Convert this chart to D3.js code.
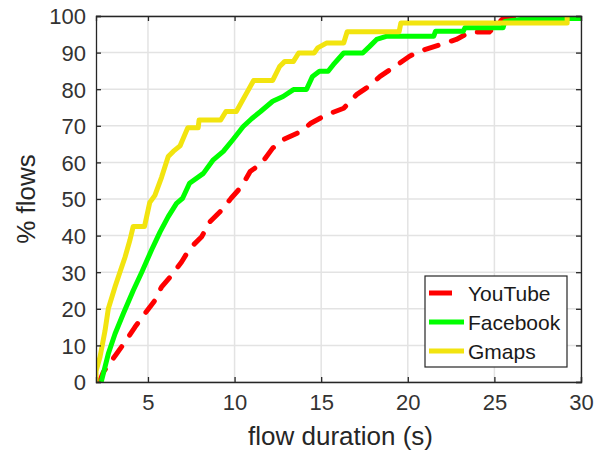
<!DOCTYPE html>
<html>
<head>
<meta charset="utf-8">
<script src="https://cdn.jsdelivr.net/npm/d3@7"></script>
<style>
  body { margin: 0; background: #fff; }
  text { font-family: "Liberation Sans", Arial, sans-serif; }
</style>
</head>
<body>
<div id="chart"></div>
<script>
// x: flow duration (s), y: % flows
var seriesNames = ['YouTube', 'Facebook', 'Gmaps'];
var seriesColors = ['#ff0000', '#00ff00', '#f2e40f'];

var youtubeX = [2.2, 2.42, 3.19, 3.67, 4.25, 4.83, 5.4, 5.79, 6.37, 6.94, 7.42, 8.1, 8.58, 9.16, 9.8,
  10.4, 10.9, 11.56, 12.2, 12.8, 13.8, 14.4, 15.3, 16.3, 17.04, 17.6, 18.4, 19.25, 20.1, 20.7,
  21.9, 22.8, 23.6, 24.7, 25.5, 26.8, 27, 30];
var youtubeY = [0, 2.7, 7.7, 10.9, 15, 18.7, 22.3, 26, 29.2, 32.8, 36.5, 39.7, 43.8, 46.5, 50.2,
  53.4, 57.5, 59.8, 63.9, 66.2, 68.4, 70.7, 73, 74.8, 78.5, 80.3, 83.5, 86.2, 89, 90.4,
  92.2, 93.6, 95.6, 95.6, 99.3, 99.3, 100, 100];

var facebookX = [2.3, 2.71, 3.1, 3.58, 4.15, 4.64, 5.2, 5.7, 6.17, 6.65, 7.0, 7.4, 8.2, 8.77, 9.35,
  9.9, 10.5, 11.0, 11.5, 12.2, 12.8, 13.4, 14.15, 14.5, 14.9, 15.4, 15.7, 16.3, 17.4, 17.8,
  18.2, 18.8, 21.5, 21.6, 23.2, 23.3, 25.5, 25.6, 27, 30];
var facebookY = [0, 7.7, 13.2, 18.7, 25, 30, 36, 41, 45.2, 48.8, 50.2, 54.3, 57, 60.7, 63,
  66.2, 69.8, 72, 73.9, 76.7, 78, 79.9, 79.9, 83.5, 84.9, 84.9, 86.7, 89.9, 89.9, 91.7,
  93.6, 94.5, 94.5, 95.8, 95.8, 96.8, 96.8, 98.5, 99.3, 99.3];

var gmapsX = [2.0, 2.0, 2.23, 2.52, 2.71, 3.1, 3.38, 3.67, 3.96, 4.15, 4.8, 5.1, 5.4, 5.79, 6.17,
  6.46, 6.85, 7.3, 7.9, 7.95, 9.2, 9.5, 10.1, 10.7, 11.1, 12.2, 12.6, 12.9, 13.4, 13.7,
  14.6, 14.8, 15.3, 16.3, 16.5, 19.5, 19.6, 29.2, 29.2];
var gmapsY = [0, 3, 6.8, 14, 20, 26, 30, 34, 38.8, 42.5, 42.5, 49, 51, 56, 61.6,
  63, 64.5, 69.5, 69.5, 71.6, 71.6, 73.9, 73.9, 79, 82.4, 82.4, 86.2, 87.6, 87.6, 89.9,
  89.9, 91.3, 92.6, 92.6, 95.7, 95.7, 98.1, 98.1, 100];

var xTicks = [5, 10, 15, 20, 25, 30];
var yTicks = [0, 10, 20, 30, 40, 50, 60, 70, 80, 90, 100];

var margin = {top: 16, right: 16, bottom: 72, left: 96};
var W = 597, H = 454;
var width = W - margin.left - margin.right;
var height = H - margin.top - margin.bottom;

var svg = d3.select('#chart').append('svg')
  .attr('width', W)
  .attr('height', H);

var g = svg.append('g')
  .attr('transform', 'translate(' + margin.left + ',' + margin.top + ')');

var x = d3.scaleLinear().domain([2, 30]).range([0, width]);
var y = d3.scaleLinear().domain([0, 100]).range([height, 0]);

// grid
g.append('g').selectAll('line')
  .data(xTicks)
  .enter().append('line')
  .attr('x1', d => x(d)).attr('x2', d => x(d))
  .attr('y1', 0).attr('y2', height)
  .attr('stroke', '#e3e3e3').attr('stroke-width', 1.5);
g.append('g').selectAll('line')
  .data(yTicks)
  .enter().append('line')
  .attr('x1', 0).attr('x2', width)
  .attr('y1', d => y(d)).attr('y2', d => y(d))
  .attr('stroke', '#e3e3e3').attr('stroke-width', 1.5);

// clip
svg.append('defs').append('clipPath').attr('id', 'clip')
  .append('rect').attr('width', width).attr('height', height);

var line = d3.line()
  .x(d => x(d[0]))
  .y(d => y(d[1]));

var seriesData = [
  d3.zip(youtubeX, youtubeY),
  d3.zip(facebookX, facebookY),
  d3.zip(gmapsX, gmapsY)
];

var lines = g.append('g').attr('clip-path', 'url(#clip)');
seriesData.forEach((d, i) => {
  lines.append('path')
    .datum(d)
    .attr('d', line)
    .attr('fill', 'none')
    .attr('stroke', seriesColors[i])
    .attr('stroke-width', 5)
    .attr('stroke-linejoin', 'round')
    .attr('stroke-linecap', i == 0 ? 'round' : 'butt')
    .attr('stroke-dasharray', i == 0 ? '14,14' : null);
});

// axes: ticks inside, on all four sides
var axisColor = '#262626';
var tickLen = 5;

var xAxis = g.append('g')
  .attr('transform', 'translate(0,' + height + ')')
  .call(d3.axisBottom(x).tickValues(xTicks).tickSize(-tickLen).tickPadding(12));
var yAxis = g.append('g')
  .call(d3.axisLeft(y).tickValues(yTicks).tickSize(-tickLen).tickPadding(10));
var xAxisTop = g.append('g')
  .call(d3.axisTop(x).tickValues(xTicks).tickSize(-tickLen).tickFormat(''));
var yAxisRight = g.append('g')
  .attr('transform', 'translate(' + width + ',0)')
  .call(d3.axisRight(y).tickValues(yTicks).tickSize(-tickLen).tickFormat(''));

[xAxis, yAxis, xAxisTop, yAxisRight].forEach(a => {
  a.select('.domain').attr('stroke', axisColor).attr('stroke-width', 1.3);
  a.selectAll('.tick line').attr('stroke', axisColor).attr('stroke-width', 1.3);
  a.selectAll('.tick text')
    .attr('fill', '#333')
    .style('font-size', '22px');
});
yAxis.selectAll('.tick text').attr('dy', '0.36em');

// axis titles
svg.append('text')
  .attr('x', margin.left + width / 2 + 2)
  .attr('y', 445)
  .attr('text-anchor', 'middle')
  .attr('fill', '#262626')
  .style('font-size', '26px')
  .text('flow duration (s)');

svg.append('text')
  .attr('transform', 'translate(35,' + (margin.top + height / 2) + ') rotate(-90)')
  .attr('text-anchor', 'middle')
  .attr('fill', '#262626')
  .style('font-size', '26px')
  .text('% flows');

// legend
var legend = svg.append('g').attr('transform', 'translate(425,276)');
legend.append('rect')
  .attr('width', 142).attr('height', 91)
  .attr('fill', '#fff')
  .attr('stroke', axisColor).attr('stroke-width', 1.2);

seriesNames.forEach((name, i) => {
  var ly = 17 + i * 29;
  legend.append('line')
    .attr('x1', 4).attr('x2', i == 0 ? 27 : 39)
    .attr('y1', ly).attr('y2', ly)
    .attr('stroke', seriesColors[i])
    .attr('stroke-width', 5);
  legend.append('text')
    .attr('x', 43)
    .attr('y', ly)
    .attr('dy', '0.36em')
    .attr('fill', '#1a1a1a')
    .style('font-size', '21px')
    .text(name);
});
</script>
</body>
</html>
